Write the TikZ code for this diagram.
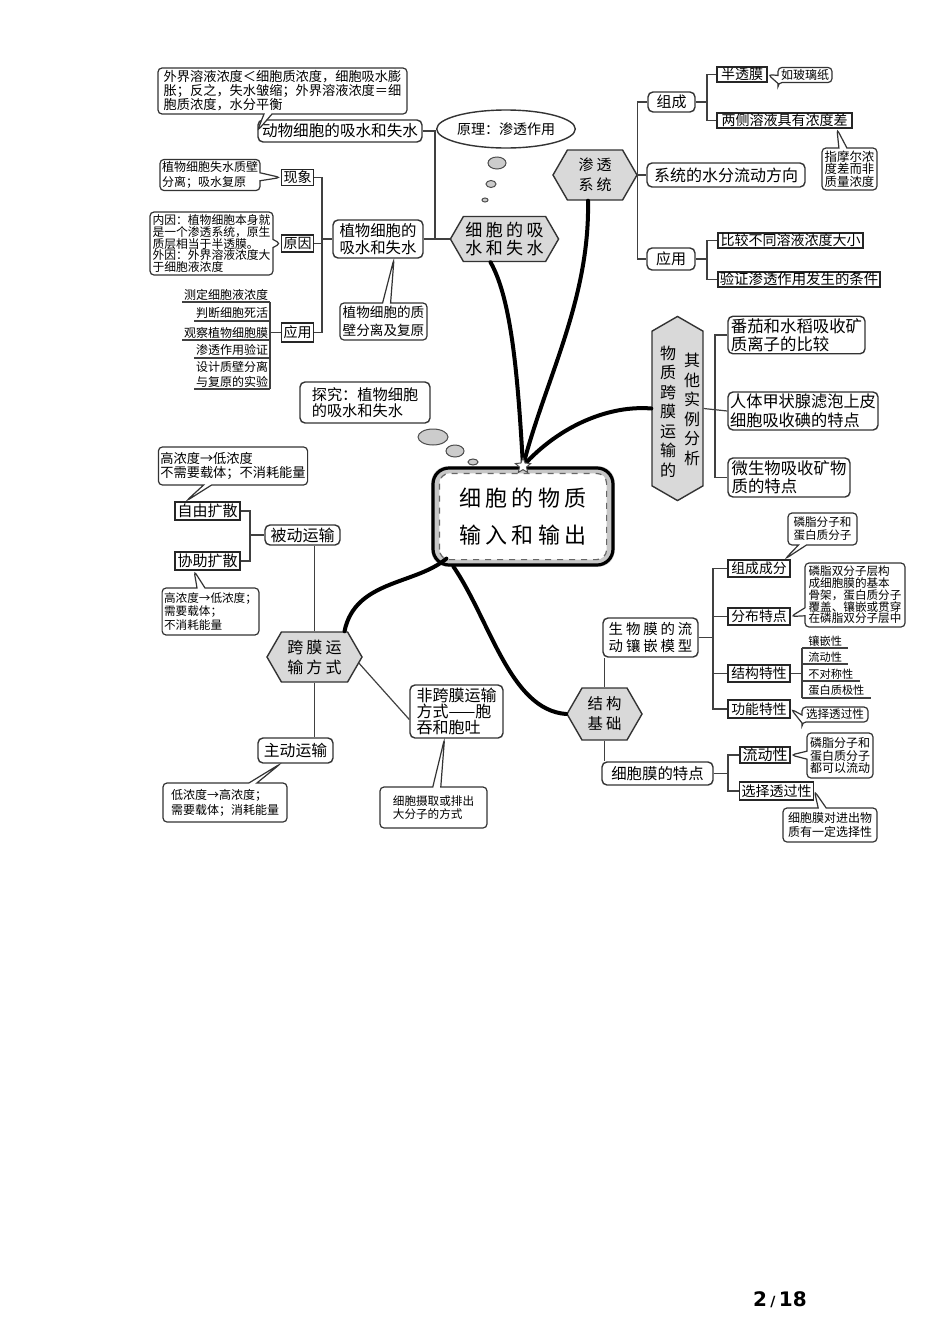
\documentclass[tikz,border=0pt]{standalone}
\usepackage{fontspec}
\setmainfont{Noto Sans CJK SC}
\newfontfamily\wide{Noto Sans CJK SC}[LetterSpace=20]
\newfontfamily\pagefont{DejaVu Sans}
\usepackage{tikz}
\usetikzlibrary{calc,shapes.geometric,shapes.symbols,shapes.callouts,backgrounds}
\newcommand\fsz[2]{\fontsize{#1pt}{#2pt}\selectfont}
\tikzset{
    link/.style={draw=black!75, line width=0.6pt},
    branch/.style={draw=black, line width=2pt, line cap=round},
    leaf/.style={draw=black!80, line width=0.7pt, rounded corners=2.5pt, fill=white, inner sep=1pt, align=center},
    tag/.style={draw=black!85, line width=0.9pt, fill=white, inner xsep=1pt, inner ysep=0.3pt, align=center},
    note/.style={rectangle callout, draw=black!80, line width=0.6pt, rounded corners=2pt, fill=white, inner sep=1pt, align=left, callout pointer width=4pt},
    hexa/.style={signal, signal to=east and west, signal pointer angle=120, draw=black!80, line width=0.7pt, fill=black!15, align=center, inner sep=1pt},
    vhexa/.style={hexa, signal to=north and south},
    hub/.style={draw=black, line width=1.6pt, rounded corners=8pt, minimum width=90pt, minimum height=48.5pt, align=center},
    bubble/.style={ellipse, draw=black!70, fill=black!20, line width=0.5pt, inner sep=0pt},
    listitem/.style={inner sep=0.8pt, align=right, font={\fsz{6}{7.5}}}
}

\begin{document}
\begin{tikzpicture}[x=0.5pt, y=-0.5pt]
  \useasboundingbox (0,0) rectangle (950,1344);

  % Central topic
  \node[hub, font={\wide\fsz{11}{18.5}}] (hub) at (523,516.5) {细胞的物质\\输入和输出};
  \begin{scope}[on background layer]
    \fill[black!22, rounded corners=8pt] (hub.south west) rectangle (hub.north east);
    \draw[black!60, dashed, line width=0.6pt, fill=white, rounded corners=5pt] ($(hub.south west)+(8,-7)$) rectangle ($(hub.north east)+(-8,7)$);
  \end{scope}
  \coordinate (knot) at (523,466);

  % Main hexagons
  \node[hexa, font={\wide\fsz{8.5}{9.2}}, minimum width=47.5pt, minimum height=22.5pt] (absorb) at (504.5,239) {细胞的吸\\水和失水};
  \node[hexa, font={\wide\fsz{7.5}{10}}, minimum width=42pt, minimum height=25pt] (osm) at (595,175) {渗透\\系统};
  \node[vhexa, minimum width=25.5pt, minimum height=78.5pt] (other) at (677.5,408.5) {};
  \node[font={\fsz{8}{9.75}}, align=center, inner sep=0pt] (otherl) at (668,411.5) {物\\质\\跨\\膜\\运\\输\\的};
  \node[font={\fsz{8}{9.75}}, align=center, inner sep=0pt] (otherr) at (692,409.5) {其\\他\\实\\例\\分\\析};
  \node[hexa, font={\wide\fsz{8}{10}}, minimum width=47.5pt, minimum height=25pt] (trans) at (314.5,657) {跨膜运\\输方式};
  \node[hexa, font={\wide\fsz{7.7}{10}}, minimum width=37.5pt, minimum height=26pt] (base) at (604.5,714) {结构\\基础};

  % Thick branches
  \draw[branch] ($(absorb.south)+(-14,0)$) .. controls (512,300) and (518,380) .. (knot);
  \draw[branch] ($(osm.south)+(-7,0)$) .. controls (590,300) and (545,380) .. (knot);
  \draw[branch] (other.west) .. controls (610,405) and (560,425) .. (knot);
  \draw[branch] ($(hub.south west)+(15,-8)$) .. controls (415,585) and (355,580) .. ($(trans.north)+(30,0)$);
  \draw[branch] ($(hub.south west)+(22,0)$) .. controls (490,620) and (510,710) .. (base.west);
  \node[star, star points=5, star point ratio=2.2, draw=black!70, fill=white, line width=0.5pt, minimum size=8pt, inner sep=0pt] (star) at (knot) {};

  % Water uptake of cells
  \node[leaf, font={\fsz{7.8}{9}}, minimum width=82pt, minimum height=11pt] (animal) at (340,131) {动物细胞的吸水和失水};
  \node[note, font={\fsz{6.6}{7}}, minimum width=124.5pt, minimum height=23pt, callout absolute pointer={(animal.west)}] (animalnote) at (282.5,91) {外界溶液浓度＜细胞质浓度，细胞吸水膨\\胀；反之，失水皱缩；外界溶液浓度＝细\\胞质浓度，水分平衡};
  \node[tag, font={\fsz{7}{8}}, minimum width=15.5pt, minimum height=8pt] (phen) at (297.5,177.5) {现象};
  \node[note, font={\fsz{6}{7.5}}, minimum width=50pt, minimum height=13pt, callout absolute pointer={(phen.west)}] (phennote) at (210,175) {植物细胞失水质壁\\分离；吸水复原};
  \node[tag, font={\fsz{7}{8}}, minimum width=15.5pt, minimum height=8.5pt] (cause) at (297.5,243.5) {原因};
  \node[note, font={\fsz{5.9}{5.9}}, minimum width=61.5pt, minimum height=31.5pt, callout absolute pointer={(cause.west)}] (causenote) at (211.5,243.5) {内因：植物细胞本身就\\是一个渗透系统，原生\\质层相当于半透膜。\\外因：外界溶液浓度大\\于细胞液浓度};
  \node[leaf, font={\fsz{7.7}{8.8}}, minimum width=45pt, minimum height=19pt] (plant) at (378,239) {植物细胞的\\吸水和失水};
  \node[tag, font={\fsz{7}{8}}, minimum width=15.5pt, minimum height=9.5pt] (app1) at (297.5,332.5) {应用};
  \node[note, font={\fsz{6.8}{9}}, align=center, minimum width=43.5pt, minimum height=18.5pt, callout absolute pointer={($(plant.south)+(16,0)$)}] (plasmo) at (383.5,321.5) {植物细胞的质\\壁分离及复原};
  \foreach \t/\y [count=\i] in {测定细胞液浓度/302, 判断细胞死活/321, 观察植物细胞膜/340, 渗透作用验证/358, {设计质壁分离\\与复原的实验}/389}
  {
    \node[listitem, anchor=south east] (use\i) at (270,\y) {\t};
    \draw[link] (use\i.south west) -- (use\i.south east);
  }
  \draw[link] (use1.south east) -- (use5.south east);
  \draw[link] (app1.west) -- (app1.west -| use1.south east);
  \coordinate (pb) at (322,239);
  \draw[link] (phen.east) -| (pb) |- (app1.east);
  \draw[link] (cause.east) -- (cause.east -| pb);
  \draw[link] (pb) -- (plant.west);
  \coordinate (aj) at (435,239);
  \draw[link] (animal.east) -| (aj);
  \draw[link] (plant.east) -- (absorb.west);

  \node[ellipse, draw=black!80, line width=0.7pt, minimum width=61pt, minimum height=19pt, inner sep=0pt, font={\fsz{7}{8}}] (principle) at (506,129) {原理：渗透作用};
  \node[bubble, minimum width=9pt, minimum height=6pt] (pb1) at (497,163) {};
  \node[bubble, minimum width=5pt, minimum height=3.5pt] (pb2) at (491,184) {};
  \node[bubble, minimum width=3pt, minimum height=2pt] (pb3) at (485,200) {};

  % Osmotic system
  \node[leaf, font={\fsz{7.5}{8}}, minimum width=23.5pt, minimum height=10pt] (comp) at (671.5,102) {组成};
  \node[tag, font={\fsz{7}{8}}, minimum width=25pt, minimum height=7.5pt] (semi) at (742,74.5) {半透膜};
  \node[note, font={\fsz{6}{7}}, align=center, minimum width=27pt, minimum height=7pt, callout absolute pointer={(semi.east)}] (glass) at (805,75) {如玻璃纸};
  \node[tag, font={\fsz{7}{8}}, minimum width=67.5pt, minimum height=7.5pt] (conc) at (784.5,120.5) {两侧溶液具有浓度差};
  \node[note, font={\fsz{6.2}{6.3}}, align=center, minimum width=27.5pt, minimum height=21pt, callout absolute pointer={($(conc.south east)+(-16,0)$)}] (molar) at (849.5,169) {指摩尔浓\\度差而非\\质量浓度};
  \node[leaf, font={\fsz{8}{9}}, minimum width=79pt, minimum height=12pt] (flow) at (726,175) {系统的水分流动方向};
  \node[leaf, font={\fsz{7.5}{8}}, minimum width=24pt, minimum height=11pt] (app2) at (671,259) {应用};
  \node[tag, font={\fsz{7}{8}}, minimum width=72.5pt, minimum height=7.5pt] (cmp) at (790.5,240.5) {比较不同溶液浓度大小};
  \node[tag, font={\fsz{7.2}{8}}, minimum width=81pt, minimum height=7.5pt] (verify) at (799,279.5) {验证渗透作用发生的条件};
  \draw[link] (comp.west) -| (osm.east) |- (app2.west);
  \draw[link] (osm.east) -- (flow.west);
  \coordinate (cb) at (707,102);
  \draw[link] (semi.west) -| (cb) |- (conc.west);
  \draw[link] (comp.east) -- (cb);
  \coordinate (ab) at (707,259);
  \draw[link] (cmp.west) -| (ab) |- (verify.west);
  \draw[link] (app2.east) -- (ab);

  % Other examples
  \node[leaf, font={\fsz{8.2}{9.2}}, align=left, minimum width=68.5pt, minimum height=18pt] (tomato) at (796.5,335) {番茄和水稻吸收矿\\质离子的比较};
  \node[leaf, font={\fsz{8.1}{9.2}}, align=left, minimum width=75pt, minimum height=19pt] (thyroid) at (803,411) {人体甲状腺滤泡上皮\\细胞吸收碘的特点};
  \node[leaf, font={\fsz{8.2}{9.2}}, align=left, minimum width=61pt, minimum height=19.5pt] (microbe) at (789,477.5) {微生物吸收矿物\\质的特点};
  \coordinate (ob) at (715,411);
  \draw[link] (tomato.west) -| (ob) |- (microbe.west);
  \draw[link] (other.east) -- (thyroid.west);

  % Exploration
  \node[leaf, font={\fsz{7.6}{8.3}}, align=left, minimum width=65pt, minimum height=20.5pt] (explore) at (365,402.5) {探究：植物细胞\\的吸水和失水};
  \node[bubble, minimum width=15pt, minimum height=8pt] (eb1) at (433,437) {};
  \node[bubble, minimum width=9pt, minimum height=6pt] (eb2) at (455,451) {};
  \node[bubble, minimum width=5pt, minimum height=3pt] (eb3) at (473,462) {};

  % Transport modes
  \node[tag, font={\fsz{7.5}{8}}, minimum width=32.5pt, minimum height=9pt] (free) at (207.5,511) {自由扩散};
  \node[tag, font={\fsz{7.5}{8}}, minimum width=32.5pt, minimum height=9pt] (facil) at (207.5,561) {协助扩散};
  \node[leaf, font={\fsz{8}{9}}, minimum width=37.5pt, minimum height=10pt] (passive) at (302.5,535) {被动运输};
  \node[note, font={\fsz{6.6}{6.7}}, minimum width=70pt, minimum height=19pt, callout absolute pointer={($(free.north west)+(12,0)$)}] (freenote) at (233,466) {高浓度→低浓度\\不需要载体；不消耗能量};
  \node[note, font={\fsz{5.8}{6.7}}, minimum width=47.5pt, minimum height=23.5pt, callout absolute pointer={($(facil.south west)+(20,0)$)}] (facilnote) at (210.5,611.5) {高浓度→低浓度；\\需要载体；\\不消耗能量};
  \coordinate (fb) at (250,535);
  \draw[link] (free.east) -| (fb) |- (facil.east);
  \draw[link] (fb) -- (passive.west);
  \draw[link] (trans.north) -- (trans.north |- passive.south);

  \node[leaf, font={\fsz{8}{8.2}}, align=left, minimum width=46.5pt, minimum height=26.5pt] (nontrans) at (456.5,711.5) {非跨膜运输\\方式——胞\\吞和胞吐};
  \node[note, font={\fsz{5.8}{6.7}}, minimum width=53.5pt, minimum height=20.5pt, callout absolute pointer={($(nontrans.south)+(-12,0)$)}] (macro) at (433.5,807.5) {细胞摄取或排出\\大分子的方式};
  \draw[link] ($(trans.east)+(-4,6)$) -- ($(nontrans.west)+(0,8)$);
  \node[leaf, font={\fsz{7.9}{9}}, minimum width=37.5pt, minimum height=12.5pt] (active) at (295.5,750.5) {主动运输};
  \node[note, font={\fsz{6}{7.5}}, minimum width=62pt, minimum height=19.5pt, callout absolute pointer={($(active.south)+(-15,0)$)}] (activenote) at (225,802.5) {低浓度→高浓度；\\需要载体；消耗能量};
  \draw[link] (trans.south) -- (trans.south |- active.north);

  % Membrane model
  \node[tag, font={\fsz{6.9}{8}}, minimum width=31pt, minimum height=8.5pt] (comps) at (759,568.5) {组成成分};
  \node[tag, font={\fsz{6.9}{8}}, minimum width=31pt, minimum height=8.5pt] (dist) at (759,616.5) {分布特点};
  \node[tag, font={\fsz{6.9}{8}}, minimum width=31pt, minimum height=8.5pt] (struct) at (759,673.5) {结构特性};
  \node[tag, font={\fsz{6.9}{8}}, minimum width=31pt, minimum height=9pt] (func) at (759,709) {功能特性};
  \node[note, font={\fsz{5.8}{6.4}}, align=center, minimum width=34.5pt, minimum height=16pt, callout absolute pointer={($(comps.north east)+(-6,0)$)}] (phos) at (822.5,529) {磷脂分子和\\蛋白质分子};
  \node[note, font={\fsz{5.8}{5.85}}, minimum width=50pt, minimum height=32pt, callout absolute pointer={(dist.east)}] (bilayer) at (855,595) {磷脂双分子层构\\成细胞膜的基本\\骨架，蛋白质分子\\覆盖、镶嵌或贯穿\\在磷脂双分子层中};
  \node[leaf, font={\wide\fsz{7.2}{8.35}}, align=left, minimum width=47.5pt, minimum height=19.5pt] (model) at (650.5,637.5) {生物膜的流\\动镶嵌模型};
  \node[note, font={\fsz{5.8}{7}}, minimum width=33pt, minimum height=7.5pt, callout absolute pointer={(func.east)}] (selnote) at (835,714.5) {选择透过性};
  \foreach \t/\y [count=\i] in {镶嵌性/648, 流动性/664, 不对称性/681, 蛋白质极性/698}
  {
    \node[listitem, anchor=south west, inner xsep=3pt, font={\fsz{5.6}{6}}] (feat\i) at (802,\y) {\t};
    \draw[link] (feat\i.south west) -- (feat\i.south east);
  }
  \draw[link] (feat1.south west) -- (feat4.south west);
  \draw[link] (struct.east) -- (struct.east -| feat1.south west);
  \coordinate (mb) at (713,637.5);
  \draw[link] (comps.west) -| (mb) |- (func.west);
  \draw[link] (dist.west) -- (dist.west -| mb);
  \draw[link] (struct.west) -- (struct.west -| mb);
  \draw[link] (model.east) -- (mb);
  \draw[link] (base.north) -- (base.north |- model.south);

  % Membrane features
  \node[leaf, font={\fsz{7.7}{8.5}}, minimum width=55.5pt, minimum height=11.5pt] (memb) at (657.5,773.5) {细胞膜的特点};
  \node[tag, font={\fsz{7.5}{8}}, minimum width=25pt, minimum height=8pt] (fluid) at (765,755) {流动性};
  \node[tag, font={\fsz{7}{8}}, minimum width=36.5pt, minimum height=9pt] (selp) at (776.5,791) {选择透过性};
  \node[note, font={\fsz{6}{6.25}}, align=center, minimum width=33pt, minimum height=22.5pt, callout absolute pointer={(fluid.east)}] (fluidnote) at (840,755.5) {磷脂分子和\\蛋白质分子\\都可以流动};
  \node[note, font={\fsz{6}{6.65}}, align=center, minimum width=47pt, minimum height=17pt, callout absolute pointer={(selp.east)}] (selnote2) at (830,825) {细胞膜对进出物\\质有一定选择性};
  \coordinate (fj) at (728,773.5);
  \draw[link] (fluid.west) -| (fj) |- (selp.west);
  \draw[link] (memb.east) -- (fj);
  \draw[link] (base.south) -- (base.south |- memb.north);

  % Page number
  \node[font={\pagefont\bfseries\fsz{10}{12}}] (pageno) at (780,1300) {2\,{\fsz{7}{8}/}\,18};
\end{tikzpicture}
\end{document}
